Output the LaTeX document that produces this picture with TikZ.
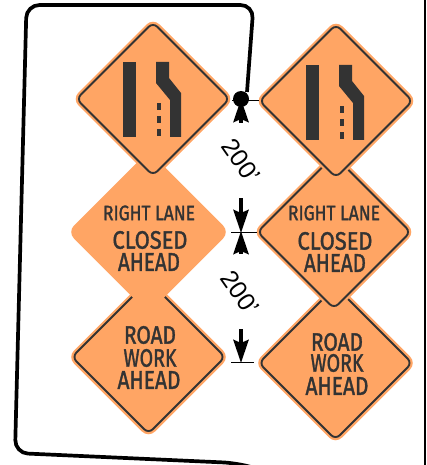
\documentclass[tikz,border=0pt]{standalone}
\usepackage{graphicx}
\usepackage{fontspec}
\setmainfont{Liberation Sans}
\newfontfamily\signfont[FakeBold=1.6]{Fira Sans}
\usetikzlibrary{arrows.meta}

\definecolor{signorange}{HTML}{FFA564}
\definecolor{signdark}{HTML}{333333}

\tikzset{
    signplate/.style={fill=signorange, rounded corners=9pt},
    signrim/.style={draw=signdark, line width=1.9pt, rounded corners=6pt},
    lanemark/.style={fill=signdark},
    signword/.style={inner sep=0pt, text=signdark, font=\signfont},
    routeline/.style={line width=3.7pt, black, rounded corners=13pt},
    tickline/.style={line width=0.9pt, black},
    distarrow/.style={line width=4pt, black, -{Stealth[length=23pt,width=15pt,inset=3pt]}},
    distlabel/.style={inner sep=0pt, font=\fontsize{25}{25}\selectfont}
}

% orange diamond centred at (#1,#2)
\newcommand{\signfill}[2]{
    \fill[signplate] (#1-81,#2) -- (#1,#2-81) -- (#1+81,#2) -- (#1,#2+81) -- cycle;
}
% dark rim inside the diamond
\newcommand{\signborder}[2]{
    \draw[signrim] (#1-76.5,#2) -- (#1,#2-76.5) -- (#1+76.5,#2) -- (#1,#2+76.5) -- cycle;
}
% word stretched to a box of #1 by #2
\newcommand{\signtext}[3]{\resizebox{#1pt}{#2pt}{#3}}

% lane symbol, left sign position
\newcommand{\lanesymbol}{
    \fill[lanemark] (123,62) rectangle (136,137);
    \fill[lanemark] (156,62) -- (169,62) -- (169,78) -- (181,93) -- (181,137)
        -- (170,137) -- (170,100) -- (156,83) -- cycle;
    \foreach \y in {103,116,129}
        \fill[lanemark] (157,\y) rectangle (161,\y+7);
}

\begin{document}
\begin{tikzpicture}[x=1pt, y=-1pt]
    \useasboundingbox (0,0) rectangle (426,465);
    \fill[white] (0,0) rectangle (426,465);

    % Frame edge on the right
    \fill[black] (424,0) rectangle (426,465);

    % Left column, lowest sign first
    \signfill{148.5}{357}
    \signborder{148.5}{357}
    \signfill{148.5}{232}
    \signfill{153}{99}
    \signborder{153}{99}
    \lanesymbol

    % Right column
    \signfill{335.5}{363}
    \signborder{335.5}{363}
    \signfill{334}{232}
    \signborder{334}{232}
    \signfill{336}{101}
    \signborder{336}{101}
    \begin{scope}[shift={(183,3)}]
        \lanesymbol
    \end{scope}

    % Sign wording
    \node[signword] (leftright)  at (149,213) {\signtext{92}{14.7}{RIGHT LANE}};
    \node[signword] (leftclosed) at (150,240) {\signtext{75}{17.7}{CLOSED}};
    \node[signword] (leftahead)  at (149,262) {\signtext{62}{17.7}{AHEAD}};
    \node[signword] (leftroad)   at (150,335) {\signtext{52}{17.7}{ROAD}};
    \node[signword] (leftwork)   at (150,358) {\signtext{53}{17.7}{WORK}};
    \node[signword] (leftahead2) at (149,380) {\signtext{63}{17.7}{AHEAD}};

    \node[signword] (rightright)  at (334,213) {\signtext{92}{14.7}{RIGHT LANE}};
    \node[signword] (rightclosed) at (335,241) {\signtext{75}{17.7}{CLOSED}};
    \node[signword] (rightahead)  at (335,263) {\signtext{62}{17.7}{AHEAD}};
    \node[signword] (rightroad)   at (337,342) {\signtext{52}{17.7}{ROAD}};
    \node[signword] (rightwork)   at (337,363) {\signtext{53}{17.7}{WORK}};
    \node[signword] (rightahead2) at (337,386) {\signtext{63}{17.7}{AHEAD}};

    % Tick lines between the columns
    \coordinate (tickaleft)  at (232,100);
    \coordinate (tickaright) at (259,100);
    \coordinate (tickbleft)  at (231,232);
    \coordinate (tickbright) at (257,232);
    \coordinate (tickcleft)  at (231,362);
    \coordinate (tickcright) at (254,362);
    \draw[tickline] (tickaleft) -- (tickaright);
    \draw[tickline] (tickbleft) -- (tickbright);
    \draw[tickline] (tickcleft) -- (tickcright);

    % Distance arrows
    \coordinate (arrowatail) at (241,123);
    \coordinate (arrowatip)  at (241,99);
    \coordinate (arrowbtail) at (241,198);
    \coordinate (arrowbtip)  at (241,233);
    \coordinate (arrowctail) at (241,254);
    \coordinate (arrowcstop) at (241,231);
    \coordinate (arrowdtail) at (241,329);
    \coordinate (arrowdtip)  at (241,363);
    \draw[distarrow] (arrowatail) -- (arrowatip);
    \draw[distarrow] (arrowbtail) -- (arrowbtip);
    \draw[distarrow] (arrowctail) -- (arrowcstop);
    \draw[distarrow] (arrowdtail) -- (arrowdtip);

    % Knot and the long line round the left column
    \node[circle, fill=black, inner sep=0pt, minimum size=16pt] (knot) at (241,99) {};
    \coordinate (routestart) at (247,92);
    \coordinate (routeend)   at (262,470);
    \draw[routeline] (routestart) -- (253.5,5) -- (26.5,5) -- (15,453) -- (236,463) -- (routeend);

    % Distance labels
    \node[distlabel, rotate=-55] (distupper) at (241,161) {200'};
    \node[distlabel, rotate=-55] (distlower) at (240,293) {200'};
\end{tikzpicture}
\end{document}
